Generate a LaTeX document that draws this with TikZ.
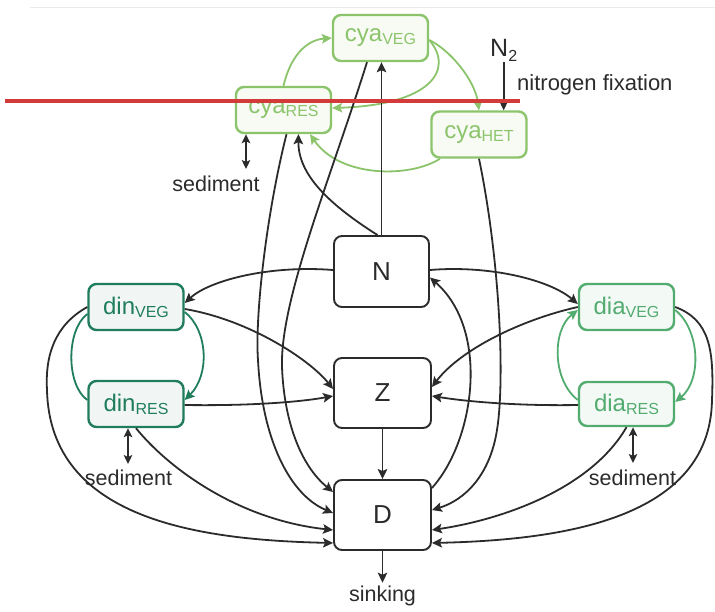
\documentclass[tikz,border=0pt]{standalone}
\usepackage{fontspec}
\setmainfont{Liberation Sans}
\usetikzlibrary{arrows.meta}
\definecolor{cyaC}{HTML}{8CC46C}
\definecolor{cyaF}{HTML}{F7FBF4}
\definecolor{dinC}{HTML}{1F7D5C}
\definecolor{dinF}{HTML}{F1F6F4}
\definecolor{diaC}{HTML}{52AB6F}
\definecolor{diaF}{HTML}{F3F9F5}
\definecolor{lineC}{HTML}{2B2B2B}
\definecolor{redC}{HTML}{D33A3A}
\newcommand{\lbsub}[1]{\raisebox{-0.12em}{\fontsize{16}{16}\selectfont #1}}
\tikzset{
  basebox/.style={rounded corners=8pt, minimum width=95pt, minimum height=46pt, inner sep=0pt, line width=2.4pt, font=\fontsize{24}{26}\selectfont},
  cyabox/.style={basebox, draw=cyaC, fill=cyaF, text=cyaC},
  dinbox/.style={basebox, draw=dinC, fill=dinF, text=dinC},
  diabox/.style={basebox, draw=diaC, fill=diaF, text=diaC},
  blkbox/.style={rounded corners=8pt, draw=lineC, fill=white, text=lineC, line width=1.9pt, minimum width=97pt, minimum height=70pt, inner sep=0pt, font=\fontsize{26}{28}\selectfont},
  conn/.style={draw=lineC, line width=1.8pt, -{Stealth[length=10pt,width=9.5pt,inset=2pt]}},
  gconn/.style={line width=1.8pt, -{Stealth[length=10pt,width=9.5pt,inset=2pt]}},
  dbl/.style={draw=lineC, line width=1.8pt, {Stealth[length=9pt,width=8.5pt,inset=2pt]}-{Stealth[length=9pt,width=8.5pt,inset=2pt]}},
  lbl/.style={font=\fontsize{21.5}{24}\selectfont, inner sep=0pt, text=lineC},
}
\begin{document}
\begin{tikzpicture}[x=1pt,y=-1pt]
\useasboundingbox[fill=white] (0,0) rectangle (715,612);
\draw[black!8, line width=0.8pt] (30,7) -- (715,7);
% nodes
\node[cyabox] (cyaV) at (380.5,38) {cya\lbsub{VEG}};
\node[cyabox] (cyaR) at (283.5,110) {cya\lbsub{RES}};
\node[cyabox] (cyaH) at (479,134.5) {cya\lbsub{HET}};
\node[blkbox, minimum width=95pt, minimum height=71pt] (N) at (381.5,271.5) {N};
\node[blkbox] (Z) at (382.5,393) {Z};
\node[blkbox] (D) at (382.5,515) {D};
\node[dinbox] (dinV) at (136,307) {din\lbsub{VEG}};
\node[dinbox] (dinR) at (136,404) {din\lbsub{RES}};
\node[diabox] (diaV) at (626.5,307) {dia\lbsub{VEG}};
\node[diabox, minimum height=44pt] (diaR) at (626.5,404) {dia\lbsub{RES}};
% labels
\node[lbl, font=\fontsize{25}{26}\selectfont, anchor=base west] (N2) at (490,57) {N\raisebox{-0.2em}{\fontsize{16}{16}\selectfont 2}};
\node[lbl, font=\fontsize{22}{24}\selectfont, anchor=base west] (nfix) at (517,91) {nitrogen fixation};
\node[lbl, anchor=base] (sed1) at (216,192) {sediment};
\node[lbl, anchor=base] (sed2) at (128.5,485) {sediment};
\node[lbl, anchor=base] (sed3) at (632.5,485) {sediment};
\node[lbl, anchor=base] (sink) at (382.5,601.5) {sinking};
\coordinate (s1) at (246,169);
\coordinate (s2) at (128,464);
\coordinate (s3) at (633,463);
% green cya connectors
\draw[gconn, cyaC] (cyaR.north) .. controls (290,58) and (305,40) .. (cyaV.west);
\draw[gconn, cyaC] ([yshift=-2pt]cyaV.east) .. controls (455,70) and (430,105) .. ([yshift=2pt]cyaR.east);
\draw[gconn, cyaC] ([yshift=-2pt]cyaV.east) .. controls (450,50) and (475,80) .. (cyaH.north);
\draw[gconn, cyaC] ([xshift=-39pt]cyaH.south) .. controls (410,178) and (340,178) .. ([xshift=26.5pt]cyaR.south);
% nitrogen fixation
\draw[conn] (N2.south) -- (N2.south |- cyaH.north);
% N upward
\draw[conn] (N.north) -- (N.north |- cyaV.south);
\draw[conn] ([xshift=-4pt]N.north) .. controls (330,205) and (298,175) .. ([xshift=15pt]cyaR.south);
% to D from above
\draw[conn] ([xshift=-13.5pt]cyaV.south) .. controls (330,180) and (280,300) .. (282,367) .. controls (284,420) and (300,465) .. ([yshift=23pt]D.west);
\draw[conn] ([xshift=3pt]cyaR.south) .. controls (265,220) and (255,320) .. (258,360) .. controls (262,440) and (290,495) .. ([yshift=2pt]D.west);
% left side
\draw[conn] (dinV.west) .. controls (55,325) and (45,355) .. (47,390) .. controls (50,520) and (200,540) .. ([yshift=-28pt]D.west);
\draw[conn] (dinR.south) .. controls (170,470) and (240,520) .. ([yshift=-15pt]D.west);
\draw[conn] ([yshift=1.5pt]N.west) .. controls (270,265) and (210,280) .. ([yshift=4pt]dinV.east);
\draw[conn] ([yshift=-2pt]dinV.east) .. controls (250,320) and (310,360) .. ([yshift=4pt]Z.west);
\draw[conn] ([yshift=-1pt]dinR.east) .. controls (250,406) and (300,402) .. ([yshift=-3pt]Z.west);
\draw[gconn, dinC] ([yshift=-5pt]dinV.east) .. controls (208,330) and (210,375) .. ([yshift=4pt]dinR.east);
\draw[line width=1.8pt, dinC] ([yshift=4pt]dinR.west) .. controls (66,385) and (66,330) .. ([yshift=-7pt]dinV.west);
% right side
\draw[conn] ([yshift=1.5pt]N.east) .. controls (490,265) and (550,280) .. ([yshift=3pt]diaV.west);
\draw[conn] (diaV.west) .. controls (520,320) and (460,350) .. ([yshift=6pt]Z.east);
\draw[conn] ([yshift=-1pt]diaR.west) .. controls (520,406) and (470,402) .. ([yshift=-3pt]Z.east);
\draw[conn] ([yshift=27pt]D.east) .. controls (475,440) and (490,330) .. ([yshift=-6pt]N.east);
\draw[conn] (cyaH.south) .. controls (500,260) and (505,380) .. (497,430) .. controls (490,475) and (465,500) .. ([yshift=5pt]D.east);
\draw[conn] (diaR.south) .. controls (590,490) and (500,520) .. ([yshift=-15pt]D.east);
\draw[conn] (diaV.east) .. controls (710,320) and (714,350) .. (712,400) .. controls (710,520) and (560,540) .. ([yshift=-28pt]D.east);
\draw[gconn, diaC] ([yshift=-3pt]diaV.east) .. controls (700,330) and (702,380) .. ([yshift=2pt]diaR.east);
\draw[gconn, diaC] ([yshift=4pt]diaR.west) .. controls (552,380) and (552,330) .. ([yshift=-3pt]diaV.west);
% center column
\draw[conn] (Z.south) -- (D.north);
\draw[conn] (D.south) -- ([yshift=3pt]sink.north);
% sediment exchange
\draw[dbl] ([xshift=-37.5pt]cyaR.south) -- (s1);
\draw[dbl] ([xshift=-8pt]dinR.south) -- (s2);
\draw[dbl] ([xshift=6.5pt]diaR.south) -- (s3);
% overlay line
\draw[redC, line width=3.2pt] (5,101) -- (520,101);
\end{tikzpicture}
\end{document}
